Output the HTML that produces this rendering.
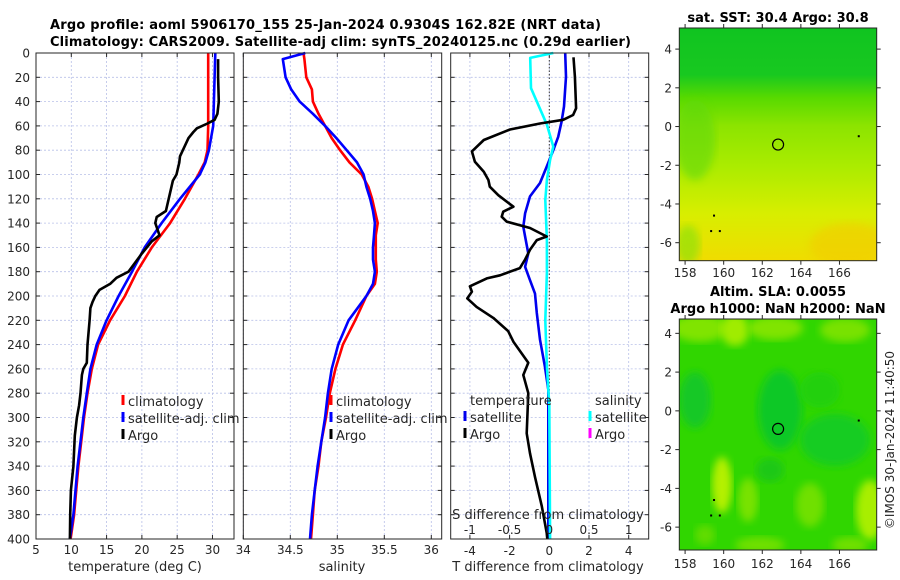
<!DOCTYPE html>
<html><head><meta charset="utf-8"><title>Argo profile</title>
<style>
html,body{margin:0;padding:0;background:#fff;}
svg{display:block;font-family:"DejaVu Sans","Liberation Sans",sans-serif;}
.tk{font-size:12px;fill:#262626;}
.lb{font-size:13px;fill:#262626;}
.tt{font-size:13px;font-weight:bold;fill:#000;}
</style></head>
<body>
<svg id="fig" width="900" height="580" viewBox="0 0 900 580" xmlns="http://www.w3.org/2000/svg">
<defs>
<linearGradient id="sstg" x1="0" y1="0" x2="0" y2="1">
<stop offset="0" stop-color="#10c420"/>
<stop offset="0.2" stop-color="#18c820"/>
<stop offset="0.3" stop-color="#58da00"/>
<stop offset="0.42" stop-color="#8ce400"/>
<stop offset="0.6" stop-color="#acec00"/>
<stop offset="0.8" stop-color="#d8ee00"/>
<stop offset="1" stop-color="#f0dc00"/>
</linearGradient>
<filter id="blur6"><feGaussianBlur stdDeviation="4"/></filter>
<clipPath id="clipm1"><rect x="679.3" y="28" width="197.4" height="232.7"/></clipPath>
<clipPath id="clipm2"><rect x="679.3" y="319" width="197.4" height="231"/></clipPath>
</defs>
<text class="tt" x="50" y="29" textLength="551">Argo profile: aoml 5906170_155 25-Jan-2024 0.9304S 162.82E (NRT data)</text>
<text class="tt" x="50" y="46" textLength="581">Climatology: CARS2009. Satellite-adj clim: synTS_20240125.nc (0.29d earlier)</text>
<g id="p1"></g>
<g id="p2"></g>
<g id="p3"></g>
<g id="m1"></g>
<g id="m2"></g>
<text class="tt" x="778" y="22" text-anchor="middle">sat. SST: 30.4 Argo: 30.8</text>
<text class="tt" x="778" y="296" text-anchor="middle">Altim. SLA: 0.0055</text>
<text class="tt" x="778" y="313" text-anchor="middle">Argo h1000: NaN h2000: NaN</text>
<text class="tk" transform="translate(894,440) rotate(-90)" text-anchor="middle">©IMOS 30-Jan-2024 11:40:50</text>
</svg>
<script>
// ---- data ----
const climDepth = [0,20,40,60,80,90,100,120,140,160,180,200,220,240,260,280,300,320,340,360,380,400];
const climTemp  = [29.4,29.4,29.4,29.4,29.3,28.9,28.0,26.1,24.0,21.4,19.3,17.6,15.5,13.8,12.9,12.3,11.8,11.4,11.0,10.7,10.4,9.9];
const satTemp   = [30.4,30.3,30.2,30.1,29.5,29.0,28.2,25.4,22.8,20.4,18.6,16.7,15.0,13.6,12.7,12.2,11.7,11.3,10.9,10.6,10.3,9.8];
const argoDepth = [5,20,40,50,55,58,62,65,70,85,90,100,105,110,120,130,135,140,150,155,165,180,185,190,195,200,205,210,220,240,255,260,265,280,290,300,315,340,360,380,400];
const argoTemp  = [30.8,30.8,30.9,30.7,30.3,29.3,27.8,27.3,26.6,25.4,25.3,24.9,24.4,24.2,23.8,23.4,22.1,21.9,22.5,21.4,20.0,18.1,16.4,15.5,14.0,13.4,13.0,12.7,12.6,12.3,12.2,11.7,11.5,11.3,11.1,10.8,10.5,10.3,9.95,9.85,9.8];
const salDepth  = [0,5,20,30,40,50,60,70,80,90,100,110,120,130,140,150,160,170,180,190,200,220,240,260,280,300,320,340,360,380,400];
const climSal   = [34.64,34.65,34.67,34.73,34.74,34.80,34.87,34.94,35.03,35.13,35.26,35.33,35.37,35.40,35.43,35.41,35.41,35.41,35.42,35.40,35.31,35.19,35.06,34.98,34.92,34.88,34.83,34.80,34.76,34.74,34.72];
const satSal    = [34.66,34.42,34.45,34.51,34.60,34.74,34.87,34.99,35.10,35.21,35.28,35.31,35.35,35.38,35.40,35.39,35.38,35.38,35.40,35.38,35.31,35.12,35.01,34.94,34.90,34.87,34.83,34.79,34.76,34.73,34.71];
const dArgoDepth = [3.5,19.5,45.5,51,55,58,63,71.6,81,89.5,97.7,104.5,110,117,126.5,130.6,134.7,138.8,144,151,154,162,170,177,183,185.5,192,196.5,202,209,218,229,237.6,255,265,280,313,329.5,349,373,395,400];
const dArgoT     = [1.22,1.29,1.35,1.2,0.7,-0.47,-1.98,-3.3,-3.9,-3.75,-3.3,-3.07,-3.0,-2.57,-1.81,-2.32,-2.4,-2.15,-0.97,-0.13,-0.63,-0.97,-1.22,-1.48,-2.48,-3.15,-4.0,-3.9,-4.13,-3.66,-2.82,-2.07,-1.81,-1.06,-1.31,-1.06,-1.14,-0.97,-0.72,-0.38,-0.13,-0.1];
const dSatDepth  = [0,19.5,44,56.5,69,80,93.5,107,118,132,143,151,165,176,187,198,214,236,258,277,300,400];
const dSatT      = [0.8,0.84,0.74,0.62,0.45,0.2,-0.13,-0.47,-0.97,-1.22,-1.31,-1.22,-1.06,-1.22,-0.97,-0.72,-0.63,-0.47,-0.22,-0.05,-0.05,-0.05];
const dSalDepth  = [0,4,29,59,77,88,104.5,121,154,181,220,258,290,400];
const dSatS      = [0.05,-0.24,-0.23,-0.03,0.05,0.01,-0.03,-0.05,-0.03,-0.03,-0.05,-0.03,0.0,0.01];
const depthTicks = [0,20,40,60,80,100,120,140,160,180,200,220,240,260,280,300,320,340,360,380,400];
const tempTicks = [5,10,15,20,25,30];
const salTicks = [34,34.5,35,35.5,36];
const salTickLabels = ["34","34.5","35","35.5","36"];
const dTTicks = [-4,-2,0,2,4];
const dSTicks = [-1,-0.5,0,0.5,1];
const dSTickLabels = ["-1","-0.5","0","0.5","1"];
const lonTicks = [158,160,162,164,166];
const latTicks1 = [4,2,0,-2,-4,-6];
const argoLon = 162.82, argoLat = -0.93;
const floatLon = [167.0,159.5,159.35,159.8], floatLat = [-0.5,-4.6,-5.4,-5.4];

const NS="http://www.w3.org/2000/svg";
function mk(parent,tag,attrs,txt){const e=document.createElementNS(NS,tag);for(const k in attrs)e.setAttribute(k,attrs[k]);if(txt!==undefined)e.textContent=txt;parent.appendChild(e);return e;}
const Y0=53, Y1=539;
const yD = d => Y0 + (d/400)*(Y1-Y0);
function lin(d0,d1,r0,r1){return v=>r0+(v-d0)/(d1-d0)*(r1-r0);}

function panel(g,x0,x1,xs,ticks,labels,tickY,gridYTicks,showYLabels){
  ticks.forEach(t=>{const x=xs(t);const l=mk(g,'line',{x1:x,x2:x,y1:Y0,y2:Y1,stroke:'#b8c0e8','stroke-width':0.8,'stroke-dasharray':'2,2'});
    });
  depthTicks.forEach(d=>{const y=yD(d);const l=mk(g,'line',{x1:x0,x2:x1,y1:y,y2:y,stroke:'#b8c0e8','stroke-width':0.8,'stroke-dasharray':'2,2'});
    
    const a=mk(g,'line',{x1:x0,x2:x0+4,y1:y,y2:y,stroke:'#262626'});
    const b=mk(g,'line',{x1:x1-4,x2:x1,y1:y,y2:y,stroke:'#262626'});
    if(showYLabels){const t=mk(g,'text',{class:'tk',x:30,y:y+4.5,'text-anchor':'end'},String(d));}
  });
  ticks.forEach((t,i)=>{const x=xs(t);
    const a=mk(g,'line',{x1:x,x2:x,y1:Y1-4,y2:Y1,stroke:'#262626'});
    const b=mk(g,'line',{x1:x,x2:x,y1:Y0,y2:Y0+4,stroke:'#262626'});
    if(labels){const tx=mk(g,'text',{class:'tk',x:x,y:tickY,'text-anchor':'middle'},labels[i]);}
  });
}
function frame(g,x0,x1){const r=mk(g,'rect',{x:x0,y:Y0,width:x1-x0,height:Y1-Y0,fill:'none',stroke:'#262626','stroke-width':1});}
function line(g,xs,vals,depths,color,w,name){
  const d=vals.map((v,i)=>(i?'L':'M')+xs(v).toFixed(1)+','+yD(depths[i]).toFixed(1)).join('');
  const p=mk(g,'path',{d:d,fill:'none',stroke:color,'stroke-width':w,'stroke-linejoin':'round'});
  
}
function legend(g,x,y,items){items.forEach((it,i)=>{const yy=y+i*17;
  const m=mk(g,'line',{x1:x,x2:x,y1:yy-11,y2:yy-1,stroke:it[1],'stroke-width':3});
  const t=mk(g,'text',{class:'lb',x:x+5,y:yy},it[0]);});}

// Panel 1
const g1=document.getElementById('p1');
const xT=lin(5,33.05,36,234);
panel(g1,36,234,xT,tempTicks,tempTicks.map(String),554,true,true);
line(g1,xT,climTemp,climDepth,'#ff0000',2.6,'climatology-temp-line');
line(g1,xT,satTemp,climDepth,'#0000ff',2.6,'satellite-temp-line');
line(g1,xT,argoTemp,argoDepth,'#000000',2.6,'argo-temp-line');
frame(g1,36,234);
mk(g1,'text',{class:'lb',x:135,y:571,'text-anchor':'middle',},'temperature (deg C)');
legend(g1,123,406,[['climatology','#ff0000'],['satellite-adj. clim','#0000ff'],['Argo','#000000']]);

// Panel 2
const g2=document.getElementById('p2');
const xS=lin(34,36,243.3,431.3);
panel(g2,243.3,441.7,xS,salTicks,salTickLabels,554,true,false);
line(g2,xS,climSal,salDepth,'#ff0000',2.6,'climatology-salinity-line');
line(g2,xS,satSal,salDepth,'#0000ff',2.6,'satellite-salinity-line');
frame(g2,243.3,441.7);
mk(g2,'text',{class:'lb',x:342,y:571,'text-anchor':'middle',},'salinity');
legend(g2,331,406,[['climatology','#ff0000'],['satellite-adj. clim','#0000ff'],['Argo','#000000']]);

// Panel 3
const g3=document.getElementById('p3');
const xDT=lin(-4,4,469.9,628.7);
const xDS=lin(-1,1,469.9,628.7);
panel(g3,450.7,648.7,xDT,dTTicks,dTTicks.map(String),555,true,false);
const zl=mk(g3,'line',{x1:xDT(0),x2:xDT(0),y1:Y0,y2:Y1,stroke:'#333','stroke-width':1,'stroke-dasharray':'1.5,2'});

line(g3,xDT,dSatT,dSatDepth,'#0000ee',2.6,'satellite-temp-diff-line');
line(g3,xDS,dSatS,dSalDepth,'#00ffff',2.6,'satellite-salinity-diff-line');
line(g3,xDT,dArgoT,dArgoDepth,'#000000',2.6,'argo-temp-diff-line');
dSTicks.forEach((t,i)=>{const tx=mk(g3,'text',{class:'tk',x:xDS(t),y:534,'text-anchor':'middle'},dSTickLabels[i]);
  });
frame(g3,450.7,648.7);
mk(g3,'text',{class:'lb',x:548,y:519,'text-anchor':'middle',},'S difference from climatology');
mk(g3,'text',{class:'lb',x:548,y:571,'text-anchor':'middle',},'T difference from climatology');
mk(g3,'text',{class:'lb',x:470,y:405,},'temperature');
mk(g3,'text',{class:'lb',x:595,y:405,},'salinity');
legend(g3,465,422,[['satellite','#0000ee'],['Argo','#000000']]);
legend(g3,590,422,[['satellite','#00ffff'],['Argo','#ff00ff']]);

// Maps
function mapAxes(g,top,bot,latTop,latBot,latTicks,lonLabelY){
  const xs=lin(157.7,167.93,679.3,876.7), ys=lin(latTop,latBot,top,bot);
  lonTicks.forEach(t=>{const x=xs(t);
    const a=mk(g,'line',{x1:x,x2:x,y1:bot,y2:bot+4,stroke:'#262626'});
    const b=mk(g,'line',{x1:x,x2:x,y1:top-4,y2:top,stroke:'#262626'});
    const tx=mk(g,'text',{class:'tk',x:x,y:lonLabelY,'text-anchor':'middle'},String(t));});
  latTicks.forEach(t=>{const y=ys(t);
    const a=mk(g,'line',{x1:675.3,x2:679.3,y1:y,y2:y,stroke:'#262626'});
    const b=mk(g,'line',{x1:876.7,x2:880.7,y1:y,y2:y,stroke:'#262626'});
    const tx=mk(g,'text',{class:'tk',x:672,y:y+4.5,'text-anchor':'end'},String(t));});
  const r=mk(g,'rect',{x:679.3,y:top,width:197.4,height:bot-top,fill:'none',stroke:'#262626'});
  const c=mk(g,'circle',{cx:xs(argoLon),cy:ys(argoLat),r:5.5,fill:'none',stroke:'#000','stroke-width':1.2});
  floatLon.forEach((lo,i)=>{const d=mk(g,'rect',{x:xs(lo)-1,y:ys(floatLat[i])-1,width:2,height:2,fill:'#000'});});
}
const m1=document.getElementById('m1');
const bg1=mk(m1,'g',{'clip-path':'url(#clipm1)'});
mk(bg1,'rect',{x:679.3,y:28,width:197.4,height:232.7,fill:'url(#sstg)',});
mk(bg1,'ellipse',{cx:695,cy:140,rx:20,ry:40,fill:'#60d810',opacity:0.6,filter:'url(#blur6)',});
mk(bg1,'ellipse',{cx:688,cy:245,rx:12,ry:20,fill:'#80e010',opacity:0.6,filter:'url(#blur6)',});
mk(bg1,'ellipse',{cx:850,cy:245,rx:40,ry:22,fill:'#f2cc00',opacity:0.6,filter:'url(#blur6)',});
mapAxes(m1,28,260.7,5.09,-6.93,latTicks1,277);

const m2=document.getElementById('m2');
const bg2=mk(m2,'g',{'clip-path':'url(#clipm2)'});
mk(bg2,'rect',{x:679.3,y:319,width:197.4,height:231,fill:'#30d600',});
const blobs=[[700,328,28,14,'#80e400'],[735,330,14,16,'#a0ec00'],[775,328,28,12,'#80e400'],[845,330,25,12,'#78e200'],
 [695,400,16,28,'#14c828'],[780,410,22,40,'#10c828'],[835,440,35,26,'#14cc24'],[820,390,20,18,'#20d010'],
 [722,485,10,28,'#b4f000'],[748,500,10,22,'#78e200'],[810,505,14,22,'#70e000'],[870,510,14,30,'#a8ee00'],
 [705,535,10,10,'#60dc00'],[760,545,25,8,'#70e000'],[850,545,18,8,'#70e000'],[770,470,14,12,'#1cc818']];
blobs.forEach(b=>{const e=mk(bg2,'ellipse',{cx:b[0],cy:b[1],rx:b[2],ry:b[3],fill:b[4],filter:'url(#blur6)'});});
mapAxes(m2,319,550,4.74,-7.18,latTicks1,568);
</script>
</body></html>
